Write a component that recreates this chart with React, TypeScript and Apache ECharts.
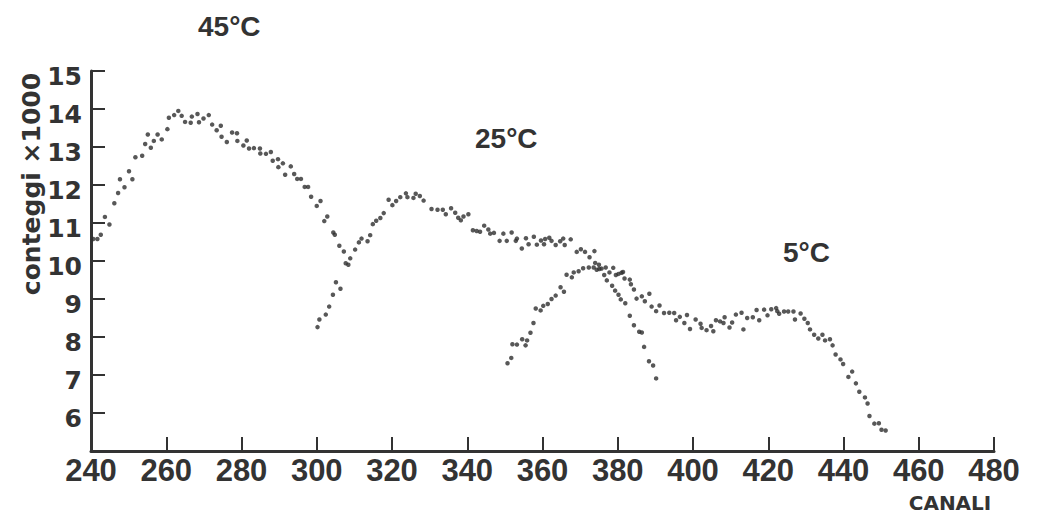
import React, { useEffect, useRef } from "react";
import * as echarts from "echarts";

// channel (CANALI) vs counts ×1000 (conteggi)
const series45: [number, number][] = [
  [240.6, 10.58], [241.7, 10.58], [242.6, 10.69], [243.7, 11.16], [244.9, 10.96], [246.2, 11.52],
  [247.2, 11.79], [247.7, 12.15], [248.9, 11.94], [250.1, 12.36], [251.0, 12.15], [251.8, 12.73],
  [253.6, 12.77], [254.4, 13.08], [255.1, 13.33], [255.9, 12.98], [256.7, 13.16], [257.7, 13.33],
  [258.8, 13.2], [260.3, 13.47], [260.7, 13.77], [262.1, 13.84], [263.2, 13.95], [264.1, 13.82],
  [265.0, 13.66], [266.5, 13.64], [266.8, 13.8], [268.3, 13.87], [268.7, 13.65], [269.9, 13.75],
  [271.3, 13.84], [272.2, 13.59], [273.4, 13.44], [274.5, 13.56], [274.7, 13.27], [276.1, 13.13],
  [277.5, 13.38], [278.8, 13.36], [278.9, 13.16], [280.5, 13.04], [281.4, 13.17], [282.0, 12.96],
  [283.3, 12.97], [284.9, 12.96], [285.0, 12.83], [286.5, 12.82], [287.8, 12.87], [288.3, 12.64],
  [289.7, 12.68], [289.8, 12.47], [291.0, 12.57], [291.6, 12.27], [293.1, 12.49], [294.0, 12.29],
  [294.8, 12.16], [295.8, 12.16], [296.8, 11.95], [297.7, 11.95], [298.5, 11.69], [300.0, 11.45],
  [301.0, 11.58], [302.0, 11.05], [302.8, 11.17], [304.4, 10.75], [304.8, 10.69], [306.0, 10.4],
  [307.2, 10.25], [307.7, 9.94], [308.4, 9.9],
];

const series25: [number, number][] = [
  [300.2, 8.26], [300.7, 8.46], [302.4, 8.59], [303.3, 8.8], [304.3, 9.11], [305.1, 9.44],
  [306.3, 9.27], [308.9, 10.07], [310.2, 10.3], [311.2, 10.49], [311.9, 10.59], [313.5, 10.52],
  [314.2, 10.68], [314.9, 10.97], [315.8, 11.06], [316.9, 11.13], [317.8, 11.26], [319.1, 11.61],
  [320.1, 11.47], [321.1, 11.58], [322.2, 11.68], [323.7, 11.78], [324.1, 11.68], [325.7, 11.66],
  [326.3, 11.77], [327.4, 11.71], [328.4, 11.59], [330.5, 11.37], [332.1, 11.35], [333.5, 11.35],
  [334.3, 11.23], [335.7, 11.39], [336.8, 11.27], [337.6, 11.14], [338.3, 11.07], [339.0, 11.17],
  [340.3, 11.23], [341.5, 10.81], [342.5, 10.79], [343.4, 10.77], [344.5, 10.93], [345.6, 10.83],
  [346.1, 10.72], [347.1, 10.74], [348.6, 10.53], [349.6, 10.72], [350.5, 10.53], [351.8, 10.75],
  [352.9, 10.53], [353.2, 10.59], [354.5, 10.33], [355.6, 10.6], [356.3, 10.44], [357.7, 10.64],
  [358.5, 10.43], [359.6, 10.54], [360.4, 10.44], [360.7, 10.58], [361.8, 10.61], [362.4, 10.53],
  [363.5, 10.42], [364.7, 10.52], [365.5, 10.59], [365.9, 10.42], [367.5, 10.57], [369.1, 10.24],
  [370.2, 10.31], [371.3, 10.24], [372.5, 10.1], [373.8, 10.26], [374.0, 9.95], [375.0, 9.9],
  [376.4, 9.63], [377.1, 9.49], [378.5, 9.35], [379.3, 9.22], [380.2, 9.11], [380.8, 8.99],
  [382.0, 8.89], [383.2, 8.56], [384.3, 8.31], [385.7, 8.14], [386.4, 8.12], [387.0, 7.74],
  [388.3, 7.36], [389.4, 7.25], [390.2, 6.91],
];

const series5: [number, number][] = [
  [350.7, 7.31], [351.7, 7.45], [352.0, 7.81], [353.2, 7.8], [354.6, 7.94], [355.5, 7.78],
  [355.9, 7.91], [356.8, 8.11], [357.6, 8.37], [358.2, 8.75], [359.5, 8.7], [360.2, 8.82],
  [361.4, 8.87], [362.4, 9.0], [363.5, 9.09], [364.8, 9.31], [365.7, 9.19], [366.4, 9.64],
  [367.8, 9.57], [368.3, 9.7], [369.6, 9.73], [370.8, 9.81], [372.3, 9.83], [373.6, 9.83],
  [374.4, 9.77], [375.1, 9.79], [375.7, 9.8], [376.8, 9.83], [377.8, 9.7], [378.8, 9.82],
  [379.5, 9.63], [380.2, 9.66], [381.0, 9.69], [381.4, 9.71], [381.8, 9.54], [383.2, 9.51],
  [383.5, 9.39], [384.3, 9.25], [385.0, 9.01], [386.4, 9.07], [387.2, 8.94], [388.4, 9.14],
  [389.0, 8.8], [390.2, 8.68], [391.1, 8.83], [392.3, 8.63], [393.7, 8.64], [395.0, 8.63],
  [395.5, 8.44], [396.5, 8.53], [397.7, 8.37], [398.4, 8.58], [399.2, 8.21], [400.7, 8.46],
  [402.0, 8.35], [402.3, 8.24], [403.6, 8.18], [404.8, 8.29], [405.4, 8.15], [406.1, 8.44],
  [407.2, 8.41], [408.1, 8.37], [408.4, 8.52], [409.7, 8.25], [410.4, 8.38], [411.4, 8.59],
  [412.9, 8.64], [413.4, 8.2], [414.4, 8.5], [415.9, 8.52], [416.9, 8.71], [417.6, 8.44],
  [418.9, 8.72], [419.8, 8.57], [420.8, 8.73], [422.1, 8.76], [422.4, 8.68], [422.9, 8.61],
  [424.2, 8.67], [425.3, 8.67], [426.7, 8.67], [427.1, 8.46], [428.6, 8.62], [429.6, 8.48],
  [430.5, 8.37], [431.1, 8.2], [432.2, 8.06], [433.3, 7.96], [434.4, 8.06], [435.1, 7.91],
  [436.4, 7.94], [437.1, 7.78], [437.9, 7.54], [439.2, 7.41], [439.9, 7.29], [441.3, 6.95],
  [442.3, 7.09], [443.3, 6.78], [444.2, 6.56], [445.7, 6.41], [446.4, 6.25], [446.9, 5.92],
  [448.2, 5.72], [449.4, 5.73], [450.1, 5.56], [451.2, 5.54],
];

const seriesNames = ["45°C", "25°C", "5°C"];
const xTitle = "CANALI";
const yTitle = "conteggi ×1000";

const INK = "#333333";

export default function App() {
  const ref = useRef<HTMLDivElement>(null);

  useEffect(() => {
    const chart = echarts.init(ref.current!, null, { renderer: "svg" });
    const dot = (name: string, data: [number, number][]) => ({
      type: "scatter",
      name,
      data,
      symbol: "circle",
      symbolSize: 4.5,
      itemStyle: { color: "#2e2e2e" },
      silent: true,
    });
    const tempLabel = (text: string, x: number, y: number) => ({
      type: "text",
      x,
      y,
      style: {
        text,
        fill: INK,
        font: "bold 28px 'Liberation Sans', Arial, sans-serif",
        textAlign: "left",
        textVerticalAlign: "middle",
      },
    });
    chart.setOption({
      animation: false,
      backgroundColor: "#ffffff",
      grid: { left: 91, right: 50, top: 71, bottom: 66, containLabel: false },
      xAxis: {
        type: "value",
        min: 240,
        max: 480,
        interval: 20,
        splitLine: { show: false },
        axisLine: { show: true, onZero: false, lineStyle: { color: INK, width: 3 } },
        axisTick: { show: true, inside: true, length: 14, lineStyle: { color: INK, width: 2 } },
        axisLabel: {
          margin: 4,
          color: INK,
          fontFamily: "'Liberation Sans', Arial, sans-serif",
          fontWeight: "bold",
          fontSize: 31,
        },
      },
      yAxis: {
        type: "value",
        min: 5,
        max: 15,
        interval: 1,
        splitLine: { show: false },
        axisLine: { show: true, onZero: false, lineStyle: { color: INK, width: 3 } },
        axisTick: { show: true, inside: true, length: 14, lineStyle: { color: INK, width: 2 } },
        axisLabel: {
          margin: 9,
          color: INK,
          fontFamily: "'DejaVu Sans', sans-serif",
          fontWeight: "bold",
          fontSize: 25,
          verticalAlign: "top",
          lineHeight: 10,
          formatter: (v: number) => (v === 5 ? "" : String(v)),
        },
      },
      graphic: [
        {
          type: "text",
          x: 31,
          y: 184,
          rotation: Math.PI / 2,
          style: {
            text: yTitle,
            fill: INK,
            font: "bold 25px 'DejaVu Sans', sans-serif",
            textAlign: "center",
            textVerticalAlign: "middle",
          },
        },
        {
          type: "text",
          x: 950,
          y: 503,
          style: {
            text: xTitle,
            fill: INK,
            font: "bold 20px 'DejaVu Sans', sans-serif",
            textAlign: "center",
            textVerticalAlign: "middle",
          },
        },
        tempLabel(seriesNames[0], 198, 26),
        tempLabel(seriesNames[1], 475, 138),
        tempLabel(seriesNames[2], 783, 252),
      ],
      series: [
        dot(seriesNames[0], series45),
        dot(seriesNames[1], series25),
        dot(seriesNames[2], series5),
      ],
    });
    return () => chart.dispose();
  }, []);

  return (
    <div
      ref={ref}
      style={{ position: "absolute", left: 0, top: 0, width: 1044, height: 517, background: "#fff" }}
    />
  );
}
